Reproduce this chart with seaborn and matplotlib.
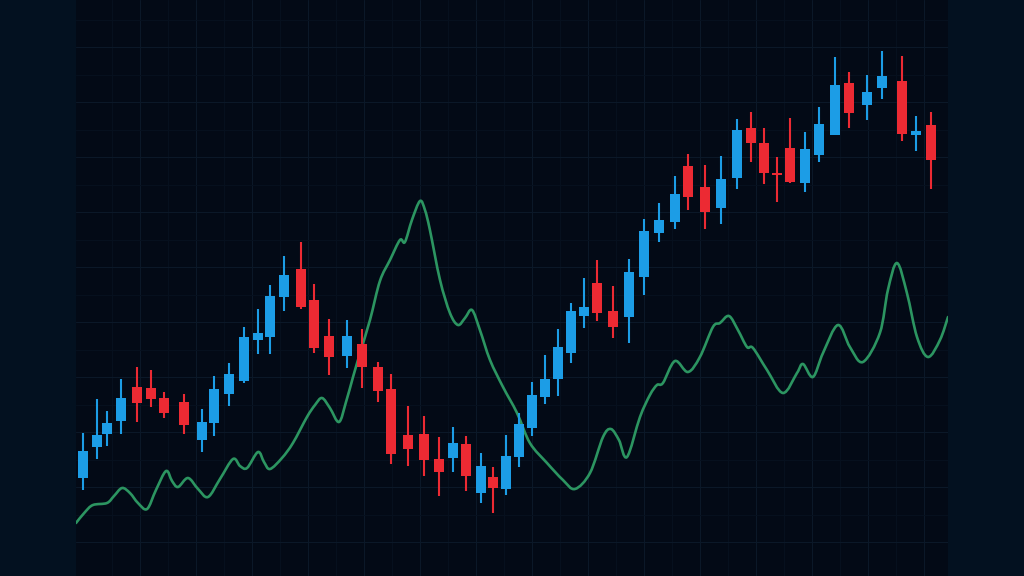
import numpy as np
import pandas as pd
import matplotlib
matplotlib.use("Agg")
import matplotlib.pyplot as plt
from matplotlib.path import Path
from matplotlib.patches import PathPatch
import seaborn as sns

# candle session positions and values
session = [0, 0.96, 1.64, 2.60, 3.69, 4.65, 5.54, 6.91, 8.14, 8.96, 9.99, 11.01,
           11.97, 12.79, 13.75, 14.91, 15.80, 16.83, 18.06, 19.08, 20.18, 21.07,
           22.23, 23.32, 24.35, 25.31, 26.20, 27.22, 28.04, 28.93, 29.82, 30.71,
           31.60, 32.49, 33.38, 34.27, 35.16, 36.25, 37.35, 38.37, 39.40, 40.49,
           41.38, 42.54, 43.64, 44.73, 45.69, 46.58, 47.47, 48.36, 49.38, 50.34,
           51.44, 52.39, 53.62, 54.65, 56.02, 56.98, 58.00]
opens = [98, 129, 142, 155, 189, 188, 178, 174, 136, 153, 182, 195, 236, 239, 279,
         307, 276, 240, 220, 232, 209, 187, 141, 142, 117, 118, 132, 83, 99, 87,
         119, 148, 179, 197, 223, 260, 293, 265, 259, 299, 343, 354, 410, 389, 368,
         398, 448, 433, 403, 428, 393, 421, 441, 493, 471, 488, 495, 441, 451]
closes = [125, 141, 153, 178, 173, 177, 163, 151, 154, 187, 202, 239, 243, 280, 301,
          269, 228, 219, 240, 209, 185, 122, 127, 116, 104, 133, 100, 110, 88, 120,
          152, 181, 197, 229, 265, 269, 263, 249, 304, 345, 356, 382, 379, 364, 397,
          446, 433, 403, 401, 394, 427, 452, 491, 463, 484, 500, 442, 445, 416]
highs = [143, 177, 165, 197, 209, 206, 184, 182, 167, 200, 213, 249, 267, 291, 320,
         334, 292, 257, 256, 247, 214, 202, 170, 160, 139, 149, 140, 123, 109, 141,
         163, 194, 221, 247, 273, 298, 316, 290, 317, 357, 373, 400, 422, 411, 420,
         457, 464, 448, 419, 458, 444, 469, 519, 504, 501, 525, 520, 460, 464]
lows = [86, 117, 130, 142, 154, 169, 158, 142, 124, 140, 170, 193, 222, 222, 265,
        267, 223, 201, 208, 188, 174, 112, 110, 100, 80, 104, 85, 73, 63, 81,
        109, 140, 172, 180, 213, 248, 255, 238, 233, 281, 334, 347, 366, 347, 352,
        387, 414, 392, 374, 393, 384, 414, 441, 448, 456, 477, 435, 425, 387]

# green indicator line (session position, value)
line_t = [-0.48, 0.14, 0.68, 1.64, 2.12, 2.67, 3.21, 3.76, 4.38, 4.99, 5.68, 6.09,
          6.50, 7.18, 7.87, 8.55, 9.37, 10.26, 10.74, 11.22, 11.97, 12.38, 12.79,
          13.61, 14.36, 15.32, 15.87, 16.35, 16.89, 17.51, 17.99, 18.47, 18.95,
          19.63, 20.31, 21.00, 21.68, 22.02, 22.50, 23.05, 23.39, 23.73, 24.42,
          25.10, 25.65, 26.13, 26.61, 27.15, 27.84, 28.73, 29.69, 30.57, 31.74,
          32.83, 33.65, 34.68, 35.57, 36.11, 36.66, 37.21, 38.10, 38.78, 39.26,
          39.67, 40.49, 41.38, 42.20, 43.09, 43.57, 44.19, 44.80, 45.42, 45.83,
          46.79, 47.88, 48.84, 49.25, 49.93, 50.62, 51.64, 52.46, 53.35, 54.51,
          55.06, 55.68, 56.36, 57.05, 57.80, 58.62, 59.17]
line_v = [53, 64, 71, 73, 80, 88, 83, 73, 67, 86, 105, 95, 89, 98, 87, 79, 97, 117,
          110, 108, 124, 114, 107, 118, 133, 159, 171, 178, 168, 154, 174, 199, 223,
          256, 295, 316, 336, 334, 356, 375, 366, 346, 296, 263, 251, 258, 266, 246,
          216, 189, 163, 133, 113, 96, 87, 103, 139, 147, 136, 119, 159, 181, 191,
          193, 215, 204, 219, 249, 253, 260, 246, 229, 228, 206, 183, 203, 212, 199,
          223, 251, 229, 214, 243, 286, 313, 283, 239, 219, 236, 259]

df = pd.DataFrame({"t": session, "open": opens, "close": closes,
                   "high": highs, "low": lows})
up = df["close"] >= df["open"]

BLUE = "#1c9de6"
RED = "#ec2a33"
GREEN = "#2c9561"

sns.set_style("dark", {"axes.facecolor": "#030a16", "figure.facecolor": "#031120"})

fig = plt.figure(figsize=(10.24, 5.76), dpi=100)
ax = fig.add_axes([76 / 1024, 0, 872 / 1024, 1])

# faint grid
for x in np.arange(3.9, 60, 3.83):
    ax.axvline(x, color="#0b1828", lw=0.8, zorder=0)
    ax.axvline(x - 1.915, color="#07111f", lw=0.7, zorder=0)
for y in np.arange(34, 576, 55):
    ax.axhline(y, color="#0b1828", lw=0.8, zorder=0)
    ax.axhline(y + 27.5, color="#07111f", lw=0.7, zorder=0)

# green line, drawn as a smooth curve through the read points
pts = np.column_stack([line_t, line_v]).astype(float)
ext = np.vstack([pts[0], pts, pts[-1]])
verts = [tuple(pts[0])]
codes = [Path.MOVETO]
for i in range(1, len(ext) - 2):
    p0, p1, p2, p3 = ext[i - 1], ext[i], ext[i + 1], ext[i + 2]
    verts += [tuple(p1 + (p2 - p0) / 6), tuple(p2 - (p3 - p1) / 6), tuple(p2)]
    codes += [Path.CURVE4] * 3
ax.add_patch(PathPatch(Path(verts, codes), fill=False, edgecolor=GREEN,
                       lw=1.9, capstyle="round", joinstyle="round", zorder=2))

# candles
colors = np.where(up, BLUE, RED)
ax.vlines(df["t"], df["low"], df["high"], colors=colors, lw=1.5, zorder=3)
bottom = df[["open", "close"]].min(axis=1)
height = (df["open"] - df["close"]).abs().clip(lower=2.5)
ax.bar(df["t"], height, bottom=bottom, width=0.68, color=colors,
       edgecolor="none", linewidth=0, zorder=4)

ax.set_xlim(-0.48, 59.17)
ax.set_ylim(0, 576)
ax.set_xticks([])
ax.set_yticks([])
for s in ax.spines.values():
    s.set_visible(False)

fig.savefig("out.png", dpi=100, facecolor=fig.get_facecolor())
